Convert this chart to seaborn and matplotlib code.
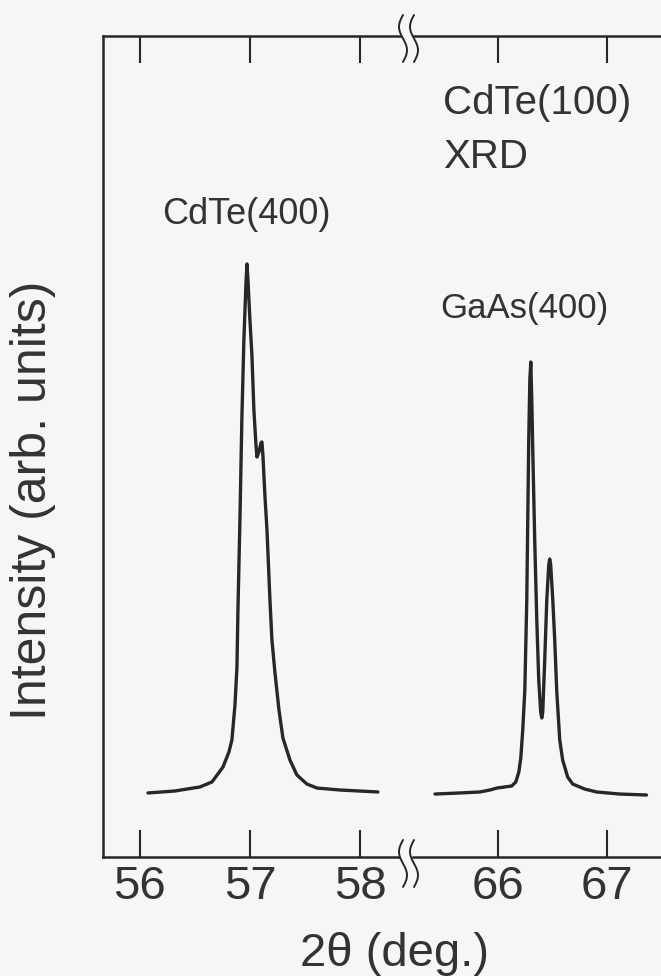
import numpy as np
import pandas as pd
import matplotlib
matplotlib.use("Agg")
import matplotlib.pyplot as plt
import seaborn as sns
from matplotlib.path import Path
from matplotlib.patches import PathPatch

# ---------------- data ----------------
cdte_2theta = [56.073, 56.318, 56.545, 56.655, 56.755, 56.809, 56.836, 56.864, 56.882,
               56.891, 56.909, 56.927, 56.945, 56.964, 56.973, 56.982, 57.000, 57.018,
               57.036, 57.055, 57.064, 57.082, 57.100, 57.109, 57.118, 57.136, 57.155,
               57.182, 57.200, 57.227, 57.264, 57.300, 57.364, 57.427, 57.518, 57.609,
               57.818, 58.164]
cdte_int = [7.80, 8.04, 8.53, 9.14, 10.96, 12.79, 14.25, 18.51, 23.14,
            30.09, 41.05, 53.59, 62.97, 69.91, 72.23, 70.28, 65.41, 61.14,
            54.45, 50.18, 48.72, 49.33, 50.43, 50.55, 48.96, 44.09, 39.83,
            31.30, 26.43, 22.53, 17.90, 14.49, 11.81, 9.99, 8.89, 8.40,
            8.16, 7.92]

gaas_2theta = [65.422, 65.651, 65.835, 65.927, 65.991, 66.064, 66.128, 66.165, 66.193,
               66.211, 66.229, 66.248, 66.266, 66.275, 66.284, 66.294, 66.303, 66.312,
               66.321, 66.339, 66.358, 66.376, 66.394, 66.404, 66.413, 66.431, 66.450,
               66.468, 66.477, 66.486, 66.505, 66.523, 66.541, 66.569, 66.596, 66.642,
               66.688, 66.798, 66.908, 67.119, 67.367]
gaas_int = [7.67, 7.80, 7.92, 8.16, 8.40, 8.53, 8.65, 9.14, 10.35,
            12.06, 15.47, 20.34, 31.30, 41.05, 50.79, 58.10, 60.29, 55.66,
            49.57, 38.61, 28.87, 21.56, 17.66, 16.93, 17.66, 23.99, 31.30,
            35.57, 36.30, 35.57, 31.30, 26.43, 20.34, 14.25, 11.81, 9.74,
            8.89, 8.28, 7.92, 7.67, 7.55]

left_ticks = [56, 57, 58]
right_ticks = [66, 67]
left_xlim = (55.664, 58.41)
right_xlim = (65.22, 67.50)
y_lim = (0, 100)

labels = {"cdte400": "CdTe(400)", "gaas400": "GaAs(400)",
          "title1": "CdTe(100)", "title2": "XRD"}
x_label = "2θ (deg.)"
y_label = "Intensity (arb. units)"

# ---------------- style ----------------
sns.set_theme(style="ticks")
plt.rcParams["font.family"] = ["Liberation Sans", "DejaVu Sans"]
bg = "#f6f6f8"
ink = "#2a2526"
txt = "#333333"

W, H = 661, 976
fig = plt.figure(figsize=(W / 100, H / 100), dpi=100, facecolor=bg)


def fx(px):
    return px / W


def fy(py):
    return 1 - py / H


ax_b, ax_t = fy(857), fy(36)
axL = fig.add_axes([fx(103), ax_b, fx(405) - fx(103), ax_t - ax_b])
axR = fig.add_axes([fx(413), ax_b, 1 - fx(413), ax_t - ax_b])

dfL = pd.DataFrame({"x": cdte_2theta, "y": cdte_int})
dfR = pd.DataFrame({"x": gaas_2theta, "y": gaas_int})
sns.lineplot(data=dfL, x="x", y="y", ax=axL, color=ink, lw=2.4, sort=False)
sns.lineplot(data=dfR, x="x", y="y", ax=axR, color=ink, lw=2.4, sort=False)

for ax, xl, tk in [(axL, left_xlim, left_ticks), (axR, right_xlim, right_ticks)]:
    ax.set_facecolor(bg)
    ax.set_xlim(*xl)
    ax.set_ylim(*y_lim)
    ax.set_xticks(tk)
    ax.set_xticklabels([str(t) for t in tk])
    ax.set_yticks([])
    ax.set_xlabel("")
    ax.set_ylabel("")
    ax.tick_params(axis="x", which="both", direction="in", top=True, bottom=True,
                   length=19.5, width=1.5, color=ink, labelsize=34, labelcolor=txt, pad=6)
    for s in ax.spines.values():
        s.set_linewidth(1.8)
        s.set_color(ink)
    ax.spines["right"].set_visible(False)

axR.spines["left"].set_visible(False)
axR.tick_params(axis="y", left=False)

# ---------------- axis break marks ----------------
def squiggle(xc, y0, y1):
    ys = np.linspace(y0, y1, 30)
    t = (ys - y0) / (y1 - y0)
    xs = xc + 4.0 * np.sin(2 * np.pi * t + np.pi)
    return xs, ys


for (y0, y1) in [(15, 62), (840, 887)]:
    xa, ya = squiggle(403, y0, y1)
    xb, yb = squiggle(414, y0, y1)
    poly_x = np.concatenate([xa, xb[::-1]])
    poly_y = np.concatenate([ya, yb[::-1]])
    verts = np.column_stack([fx(poly_x), fy(poly_y)])
    fig.patches.append(PathPatch(Path(np.vstack([verts, verts[:1]])), transform=fig.transFigure,
                                 facecolor=bg, edgecolor="none", zorder=10))
    for xs, ys in [(xa, ya), (xb, yb)]:
        fig.lines.append(plt.Line2D(fx(xs), fy(ys), transform=fig.transFigure,
                                    color=ink, lw=1.4, zorder=11))

# ---------------- texts ----------------
fig.text(fx(162), fy(224), labels["cdte400"], fontsize=26, color=txt, va="baseline", ha="left")
fig.text(fx(440), fy(318), labels["gaas400"], fontsize=25, color=txt, va="baseline", ha="left")
fig.text(fx(443), fy(114), labels["title1"], fontsize=29, color=txt, va="baseline", ha="left")
fig.text(fx(443), fy(168), labels["title2"], fontsize=29, color=txt, va="baseline", ha="left")
fig.text(fx(395), fy(966), x_label, fontsize=34, color=txt, va="baseline", ha="center")
fig.text(fx(33), fy(500), y_label, fontsize=36, color=txt, va="center", ha="center", rotation=90)

fig.savefig("out.png", dpi=100, facecolor=bg)
